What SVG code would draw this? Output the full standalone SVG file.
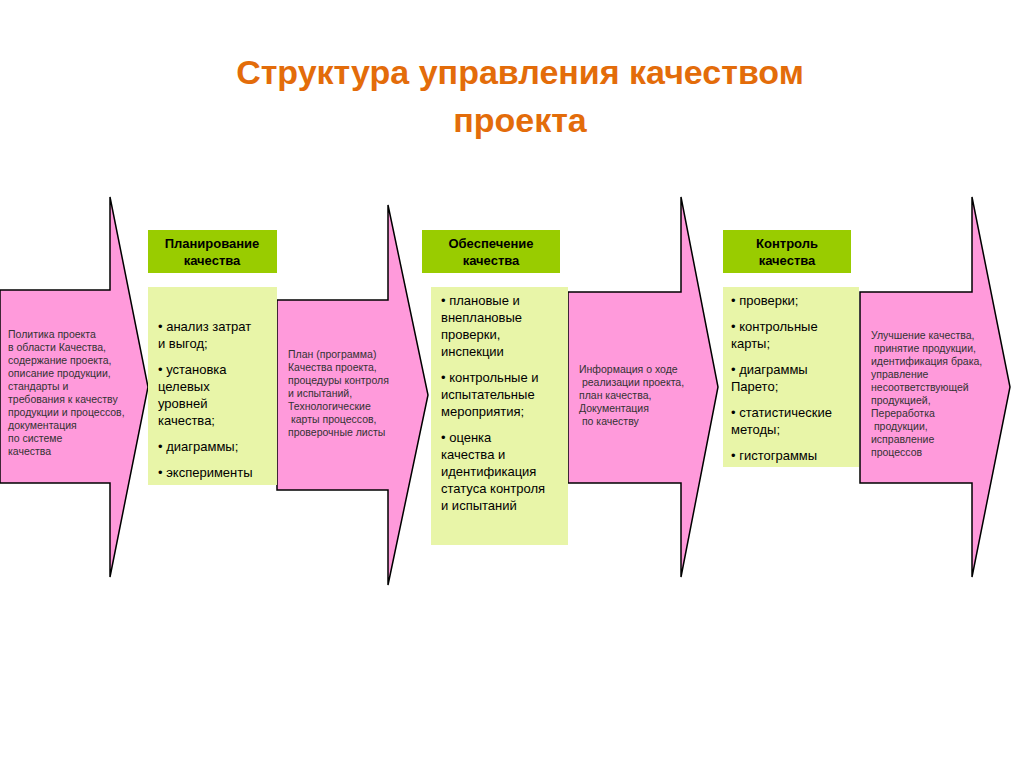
<svg xmlns="http://www.w3.org/2000/svg" width="1024" height="767" viewBox="0 0 1024 767">
<style>
.arr{fill:#FF9ADB;stroke:#000;stroke-width:1.5}
.hd{fill:#99CC00}
.bx{fill:#E8F5A8}
.t{font-family:"Liberation Sans",Arial,sans-serif;font-size:10.5px;fill:#333}
.b{font-family:"Liberation Sans",Arial,sans-serif;font-size:13px;fill:#000}
.h{font-family:"Liberation Sans",Arial,sans-serif;font-size:13px;font-weight:bold;fill:#000;text-anchor:middle}
.title{font-family:"Liberation Sans",Arial,sans-serif;font-size:34px;font-weight:bold;fill:#E36C0A;text-anchor:middle}
</style>
<rect width="1024" height="767" fill="#fff"/>
<g id="title"><text class="title" x="520" y="84">Структура управления качеством</text><text class="title" x="520" y="132">проекта</text></g>
<g id="arrow1"><path class="arr" d="M0 290 H110 V197 L148 387 L110 577 V483 H0 Z"/>
<text class="t"><tspan x="8" y="338">Политика проекта</tspan><tspan x="8" y="351">в области Качества,</tspan><tspan x="8" y="364">содержание проекта,</tspan><tspan x="8" y="377">описание продукции,</tspan><tspan x="8" y="390">стандарты и</tspan><tspan x="8" y="403">требования к качеству</tspan><tspan x="8" y="416">продукции и процессов,</tspan><tspan x="8" y="429">документация</tspan><tspan x="8" y="442">по системе</tspan><tspan x="8" y="455">качества</tspan></text></g>
<g id="arrow2"><path class="arr" d="M277 300 H388 V205 L428 395 L388 585 V490 H277 Z"/>
<text class="t"><tspan x="288" y="358">План (программа)</tspan><tspan x="288" y="371">Качества проекта,</tspan><tspan x="288" y="384">процедуры контроля</tspan><tspan x="288" y="397">и испытаний,</tspan><tspan x="288" y="410">Технологические</tspan><tspan x="288" y="423"> карты процессов,</tspan><tspan x="288" y="436">проверочные листы</tspan></text></g>
<g id="arrow3"><path class="arr" d="M568 292 H681 V197 L718 387 L681 577 V483 H568 Z"/>
<text class="t"><tspan x="579" y="373">Информация о ходе</tspan><tspan x="579" y="386"> реализации проекта,</tspan><tspan x="579" y="399">план качества,</tspan><tspan x="579" y="412">Документация</tspan><tspan x="579" y="425"> по качеству</tspan></text></g>
<g id="arrow4"><path class="arr" d="M860 292 H972 V197 L1010 387 L972 577 V483 H860 Z"/>
<text class="t"><tspan x="871" y="339">Улучшение качества,</tspan><tspan x="871" y="352"> принятие продукции,</tspan><tspan x="871" y="365">идентификация брака,</tspan><tspan x="871" y="378">управление</tspan><tspan x="871" y="391">несоответствующей</tspan><tspan x="871" y="404">продукцией,</tspan><tspan x="871" y="417">Переработка</tspan><tspan x="871" y="430"> продукции,</tspan><tspan x="871" y="443">исправление</tspan><tspan x="871" y="456">процессов</tspan></text></g>
<g id="plan"><rect class="hd" x="148" y="230" width="129" height="43"/><text class="h"><tspan x="212" y="248">Планирование</tspan><tspan x="212" y="265">качества</tspan></text>
<rect class="bx" x="148" y="287" width="129" height="198"/>
<text class="b"><tspan x="158" y="331">• анализ затрат</tspan><tspan x="158" y="348">и выгод;</tspan><tspan x="158" y="374">• установка</tspan><tspan x="158" y="391">целевых</tspan><tspan x="158" y="408">уровней</tspan><tspan x="158" y="425">качества;</tspan><tspan x="158" y="451">• диаграммы;</tspan><tspan x="158" y="477">• эксперименты</tspan></text></g>
<g id="assure"><rect class="hd" x="422" y="230" width="138" height="43"/><text class="h"><tspan x="491" y="248">Обеспечение</tspan><tspan x="491" y="265">качества</tspan></text>
<rect class="bx" x="431" y="287" width="137" height="258"/>
<text class="b"><tspan x="441" y="305">• плановые и</tspan><tspan x="441" y="322">внеплановые</tspan><tspan x="441" y="339">проверки,</tspan><tspan x="441" y="356">инспекции</tspan><tspan x="441" y="382">• контрольные и</tspan><tspan x="441" y="399">испытательные</tspan><tspan x="441" y="416">мероприятия;</tspan><tspan x="441" y="442">• оценка</tspan><tspan x="441" y="459">качества и</tspan><tspan x="441" y="476">идентификация</tspan><tspan x="441" y="493">статуса контроля</tspan><tspan x="441" y="510">и испытаний</tspan></text></g>
<g id="control"><rect class="hd" x="723" y="230" width="128" height="43"/><text class="h"><tspan x="787" y="248">Контроль</tspan><tspan x="787" y="265">качества</tspan></text>
<rect class="bx" x="723" y="287" width="136" height="180"/>
<text class="b"><tspan x="731" y="305">• проверки;</tspan><tspan x="731" y="331">• контрольные</tspan><tspan x="731" y="348">карты;</tspan><tspan x="731" y="374">• диаграммы</tspan><tspan x="731" y="391">Парето;</tspan><tspan x="731" y="417">• статистические</tspan><tspan x="731" y="434">методы;</tspan><tspan x="731" y="460">• гистограммы</tspan></text></g>
</svg>
